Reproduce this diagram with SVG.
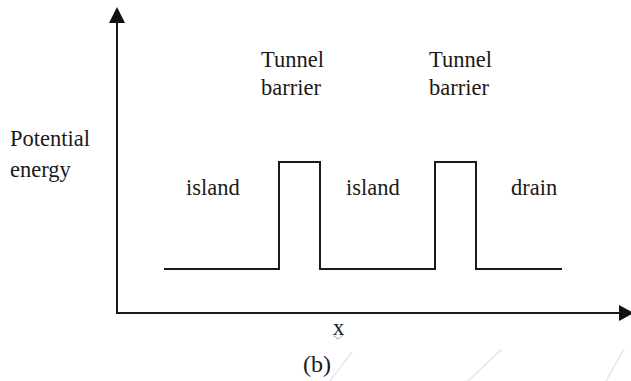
<svg xmlns="http://www.w3.org/2000/svg" width="631" height="381" viewBox="0 0 631 381">
  <style>
    text { font-family: 'Liberation Serif', 'Times New Roman', Times, serif; font-size: 22.5px; fill: #1a1a1a; }
    .ln { fill: none; stroke: #1a1a1a; stroke-width: 2; }
    .wm { fill: none; stroke: #e6e6e6; stroke-width: 1.5; }
  </style>
  <rect width="631" height="381" fill="#ffffff"/>
  <g id="watermark">
    <line class="wm" x1="330" y1="381" x2="352" y2="352"/>
    <line class="wm" x1="468" y1="381" x2="502" y2="349"/>
    <line class="wm" x1="606" y1="381" x2="624" y2="349"/>
  </g>
  <g id="axes">
    <line class="ln" x1="117" y1="313" x2="117" y2="20"/>
    <polygon points="117,7 109,23 125,23" fill="#111"/>
    <line class="ln" x1="116" y1="313" x2="620" y2="313"/>
    <polygon points="634,313 619,305 619,321" fill="#111"/>
  </g>
  <g id="potential">
    <polyline class="ln" points="164,269 279,269 279,162 320,162 320,269 435,269 435,162 476,162 476,269 562,269"/>
  </g>
  <g id="label-potential">
    <text x="10" y="146" font-family="Liberation Serif, serif">Potential</text>
    <text x="10" y="177" font-family="Liberation Serif, serif">energy</text>
  </g>
  <g id="label-barrier1">
    <text x="261" y="67" font-family="Liberation Serif, serif">Tunnel</text>
    <text x="261" y="95" font-family="Liberation Serif, serif">barrier</text>
  </g>
  <g id="label-barrier2">
    <text x="429" y="67" font-family="Liberation Serif, serif">Tunnel</text>
    <text x="429" y="95" font-family="Liberation Serif, serif">barrier</text>
  </g>
  <g id="label-island1"><text x="186" y="195" font-family="Liberation Serif, serif">island</text></g>
  <g id="label-island2"><text x="346" y="195" font-family="Liberation Serif, serif">island</text></g>
  <g id="label-drain"><text x="511" y="195" font-family="Liberation Serif, serif">drain</text></g>
  <g id="label-x">
    <text x="333" y="335" font-family="Liberation Serif, serif">x</text>
    <polyline points="333,334 335,337 338,339 341,337 344,334" fill="none" stroke="#3a9a3a" stroke-width="1" stroke-dasharray="1.5,1"/>
  </g>
  <g id="caption"><text x="303" y="372" font-family="Liberation Serif, serif" style="font-size:24px">(b)</text></g>
</svg>
